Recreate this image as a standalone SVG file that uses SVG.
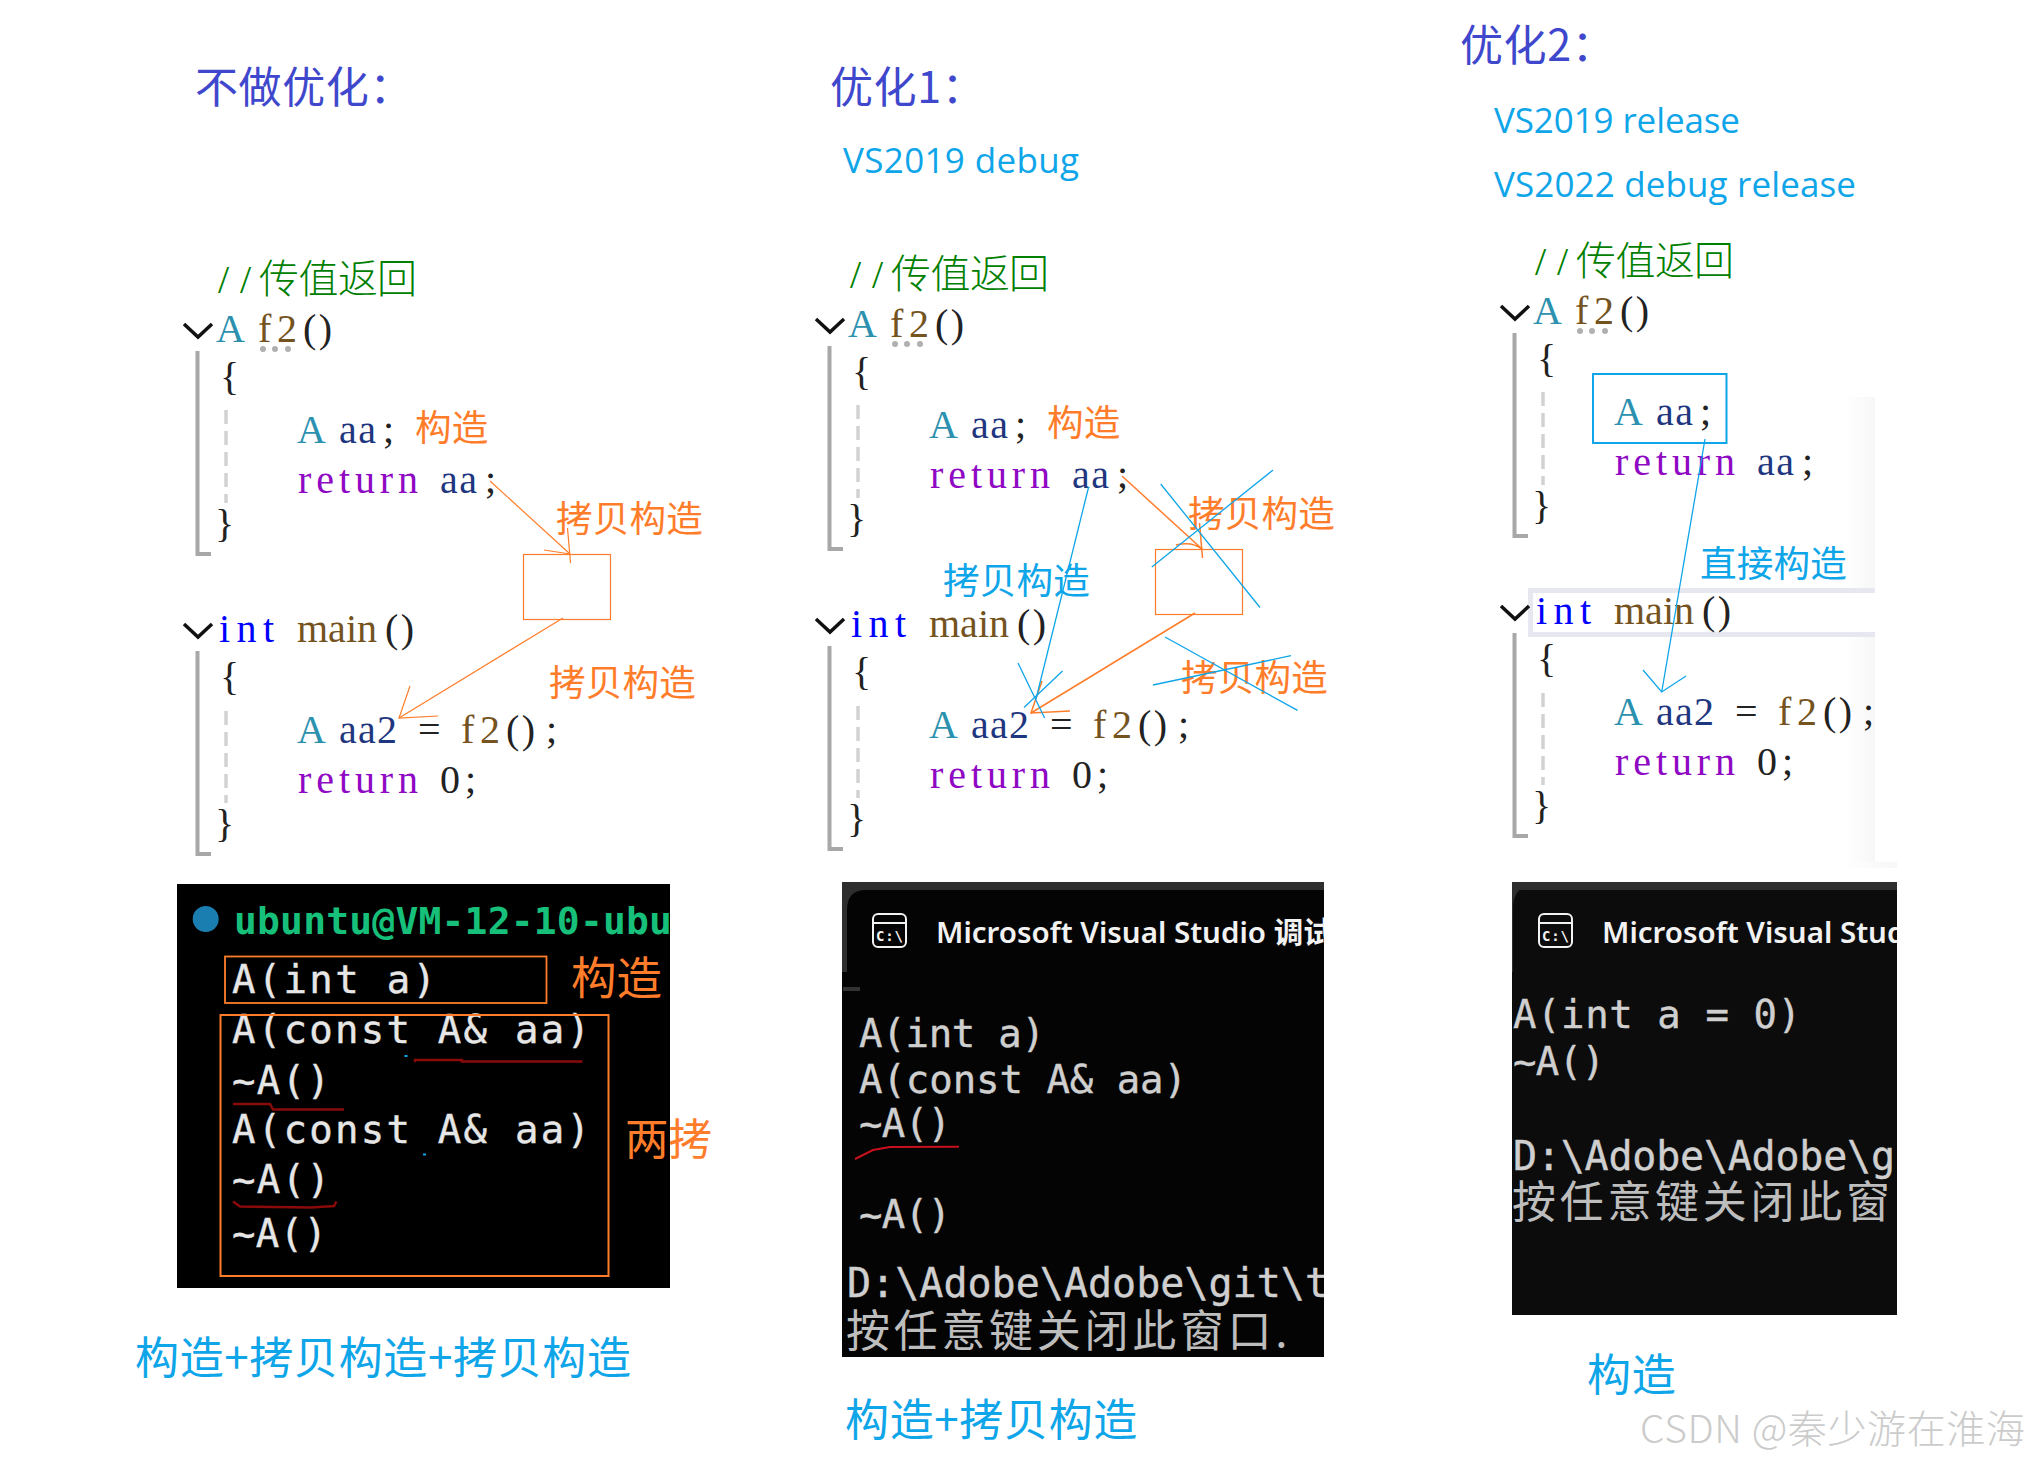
<svg xmlns="http://www.w3.org/2000/svg" width="2029" height="1463" viewBox="0 0 2029 1463">
<style>
text{white-space:pre}
.cd{font-family:"Liberation Serif","Noto Sans CJK SC",serif;font-size:40px;fill:#222}
.cm{font-family:"Liberation Serif","Noto Sans CJK SC",serif;font-size:40px;fill:#008000;font-weight:300}
.ty{fill:#2b91af}.vr{fill:#1f377f}.kw{fill:#8f08c4}.fn{fill:#74531f}.bl{fill:#0000ff}
.chev{fill:none;stroke:#111;stroke-width:3.5}
.fold{fill:none;stroke:#a8a8a8;stroke-width:4}
.dash{fill:none;stroke:#d2d2d2;stroke-width:3.5;stroke-dasharray:14 7}
.dots{fill:#b0b0b0}
.cjk{font-family:"Noto Sans CJK SC","Noto Sans",sans-serif}
.lb{font-size:36.6px;letter-spacing:.2px}
.or{fill:#ff7d2a}.sky{fill:#0ea5e9}.ind{fill:#3f48cc}
.hd{font-size:43px;letter-spacing:.6px}
.lat{font-family:"Open Sans","Noto Sans",sans-serif;font-size:35px;fill:#0ea5e9}
.ft{font-size:44px;letter-spacing:.65px}
.ol{fill:none;stroke:#ff7d2a;stroke-width:1.2}
.ol2{fill:none;stroke:#ff7d2a;stroke-width:1.5}
.bll{fill:none;stroke:#0ea5e9;stroke-width:1.3}
.mono{font-family:"DejaVu Sans Mono","Noto Sans CJK SC",monospace;font-size:39px;fill:#cfcfcf;stroke:#cfcfcf;stroke-width:.4}
.mw{fill:#e6e6e6;stroke:#e6e6e6}
.zh{font-family:"Noto Sans CJK SC",sans-serif;font-size:44px;fill:#bdbdbd;font-weight:400;letter-spacing:3.7px}
.ti{font-family:"Noto Sans","Noto Sans CJK SC",sans-serif;font-size:29.5px;font-weight:600;fill:#f2f2f2}
.ic{font-family:"DejaVu Sans Mono",monospace;font-size:14px;font-weight:700;fill:#f2f2f2}
.icb{fill:none;stroke:#f2f2f2;stroke-width:2}
.red{fill:none;stroke:#8b0a0a;stroke-width:2.5}
</style>
<defs>
<clipPath id="t1"><rect x="177" y="884" width="493" height="404"/></clipPath>
<clipPath id="t2"><rect x="842" y="882" width="482" height="475"/></clipPath>
<clipPath id="t3"><rect x="1512" y="882" width="385" height="433"/></clipPath>
<linearGradient id="fade" x1="0" x2="1" y1="0" y2="0"><stop offset="0" stop-color="#fff"/><stop offset="1" stop-color="#f7f7f7"/></linearGradient>
<g id="deco">
<polyline class="chev" points="184,324 198,337 212,324"/>
<polyline class="chev" points="184,624 198,637 212,624"/>
<polyline class="fold" points="197.5,351 197.5,554 211,554"/>
<polyline class="fold" points="197.5,651 197.5,854 211,854"/>
<line class="dash" x1="226" y1="410" x2="226" y2="503"/>
<line class="dash" x1="226" y1="711" x2="226" y2="803"/>
<g class="dots"><circle cx="263" cy="349" r="3"/><circle cx="275" cy="349" r="3"/><circle cx="288" cy="349" r="3"/></g>
</g>
</defs>
<rect width="2029" height="1463" fill="#fff"/>

<g id="header-1"><text class="cjk hd ind" x="195" y="103">不做优化：</text></g>
<g id="header-2"><text class="cjk hd ind" x="830" y="103">优化1：</text>
<text class="lat" x="843" y="173" textLength="236">VS2019 debug</text></g>
<g id="header-3"><text class="cjk hd ind" x="1460" y="61">优化2：</text>
<text class="lat" x="1494" y="133" textLength="246">VS2019 release</text>
<text class="lat" x="1494" y="197" textLength="362">VS2022 debug release</text></g>

<g id="code-1">
<use href="#deco"/>
<text class="cm" x="218 240 259 298.500 338 377" y="293">//传值返回</text>
<text class="cd ty" x="216" y="342">A</text><text class="cd fn" x="258" y="342" textLength="39">f2</text><text class="cd" x="303" y="342" textLength="29">()</text>
<text class="cd" x="220" y="390">{</text>
<text class="cd ty" x="297" y="443">A</text><text class="cd vr" x="339" y="443" textLength="37">aa</text><text class="cd" x="383" y="443">;</text>
<text class="cd kw" x="298" y="493" textLength="120">return</text><text class="cd vr" x="440" y="493" textLength="37">aa</text><text class="cd" x="485" y="493">;</text>
<text class="cd" x="215" y="537">}</text>
<text class="cd bl" x="219" y="642" textLength="55">int</text><text class="cd fn" x="297" y="642" textLength="80">main</text><text class="cd" x="385" y="642" textLength="29">()</text>
<text class="cd" x="220" y="690">{</text>
<text class="cd ty" x="297" y="743">A</text><text class="cd vr" x="339" y="743" textLength="58">aa2</text><text class="cd" x="418" y="743">=</text><text class="cd fn" x="461" y="743" textLength="39">f2</text><text class="cd" x="506" y="743" textLength="29">()</text><text class="cd" x="546" y="743">;</text>
<text class="cd kw" x="298" y="793" textLength="120">return</text><text class="cd" x="440" y="793">0</text><text class="cd" x="465" y="793">;</text>
<text class="cd" x="215" y="837">}</text>
<text class="cjk lb or" x="415" y="441">构造</text>
<text class="cjk lb or" x="556" y="532">拷贝构造</text>
<text class="cjk lb or" x="549" y="696">拷贝构造</text>
<rect class="ol" x="523.5" y="554.5" width="87" height="65"/>
</g>

<g id="code-2">
<g transform="translate(632,-5)">
<use href="#deco"/>
<text class="cm" x="218 240 259 298.500 338 377" y="293">//传值返回</text>
<text class="cd ty" x="216" y="342">A</text><text class="cd fn" x="258" y="342" textLength="39">f2</text><text class="cd" x="303" y="342" textLength="29">()</text>
<text class="cd" x="220" y="390">{</text>
<text class="cd ty" x="297" y="443">A</text><text class="cd vr" x="339" y="443" textLength="37">aa</text><text class="cd" x="383" y="443">;</text>
<text class="cd kw" x="298" y="493" textLength="120">return</text><text class="cd vr" x="440" y="493" textLength="37">aa</text><text class="cd" x="485" y="493">;</text>
<text class="cd" x="215" y="537">}</text>
<text class="cd bl" x="219" y="642" textLength="55">int</text><text class="cd fn" x="297" y="642" textLength="80">main</text><text class="cd" x="385" y="642" textLength="29">()</text>
<text class="cd" x="220" y="690">{</text>
<text class="cd ty" x="297" y="743">A</text><text class="cd vr" x="339" y="743" textLength="58">aa2</text><text class="cd" x="418" y="743">=</text><text class="cd fn" x="461" y="743" textLength="39">f2</text><text class="cd" x="506" y="743" textLength="29">()</text><text class="cd" x="546" y="743">;</text>
<text class="cd kw" x="298" y="793" textLength="120">return</text><text class="cd" x="440" y="793">0</text><text class="cd" x="465" y="793">;</text>
<text class="cd" x="215" y="837">}</text>
<text class="cjk lb or" x="415" y="441">构造</text>
<text class="cjk lb or" x="556" y="532">拷贝构造</text>
<text class="cjk lb or" x="549" y="696">拷贝构造</text>
<rect class="ol" x="523.5" y="554.5" width="87" height="65"/>
</g>
<text class="cjk lb sky" x="943" y="594">拷贝构造</text>
</g>

<g id="code-3">
<rect x="1845" y="397" width="30" height="465" fill="url(#fade)"/>
<rect x="1840" y="862" width="57" height="6" fill="url(#fade)"/>
<rect x="1530.5" y="590.5" width="350" height="44" fill="#fff" stroke="#e7e7f0" stroke-width="5"/>
<rect x="1875" y="585" width="30" height="55" fill="#fff"/>
<g transform="translate(1317,-18)">
<use href="#deco"/>
<text class="cm" x="218 240 259 298.500 338 377" y="293">//传值返回</text>
<text class="cd ty" x="216" y="342">A</text><text class="cd fn" x="258" y="342" textLength="39">f2</text><text class="cd" x="303" y="342" textLength="29">()</text>
<text class="cd" x="220" y="390">{</text>
<text class="cd ty" x="297" y="443">A</text><text class="cd vr" x="339" y="443" textLength="37">aa</text><text class="cd" x="383" y="443">;</text>
<text class="cd kw" x="298" y="493" textLength="120">return</text><text class="cd vr" x="440" y="493" textLength="37">aa</text><text class="cd" x="485" y="493">;</text>
<text class="cd" x="215" y="537">}</text>
<text class="cd bl" x="219" y="642" textLength="55">int</text><text class="cd fn" x="297" y="642" textLength="80">main</text><text class="cd" x="385" y="642" textLength="29">()</text>
<text class="cd" x="220" y="690">{</text>
<text class="cd ty" x="297" y="743">A</text><text class="cd vr" x="339" y="743" textLength="58">aa2</text><text class="cd" x="418" y="743">=</text><text class="cd fn" x="461" y="743" textLength="39">f2</text><text class="cd" x="506" y="743" textLength="29">()</text><text class="cd" x="546" y="743">;</text>
<text class="cd kw" x="298" y="793" textLength="120">return</text><text class="cd" x="440" y="793">0</text><text class="cd" x="465" y="793">;</text>
<text class="cd" x="215" y="837">}</text>
</g>
<rect x="1593" y="374" width="133.500" height="69" fill="none" stroke="#0ea5e9" stroke-width="2"/>
<text class="cjk lb sky" x="1700" y="577">直接构造</text>
</g>

<g id="connectors">
<g id="arrows-1">
<polyline class="ol" points="490,481 570,554"/>
<polyline class="ol" points="567.500,528 570.500,563"/>
<polyline class="ol" points="544,550 570,554"/>
<polyline class="ol" points="563,618 399,718"/>
<polyline class="ol" points="410,686 399,718 438,716"/>
</g>
<g id="arrows-2" transform="translate(632,-5)">
<polyline class="ol2" points="490,481 570,554"/>
<polyline class="ol2" points="567.500,528 570.500,563"/>
<path class="ol2" d="M544,550Q560,546 570,554"/>
<polyline class="ol2" points="563,618 399,718"/>
<polyline class="ol2" points="410,686 399,718 438,716"/>
</g>
<g id="arrows-2-blue">
<polyline class="bll" points="1088.600,487 1036,699"/>
<polyline class="bll" points="1018,663 1044.600,718"/>
<polyline class="bll" points="1062.500,671 1024,707.500"/>
<polyline class="bll" points="1151.800,567 1273,470"/>
<polyline class="bll" points="1160.700,484 1260,607.500"/>
<polyline class="bll" points="1165,637 1297.500,710.400"/>
<polyline class="bll" points="1152.900,685 1291,655.700"/>
</g>
<g id="arrows-3">
<polyline class="bll" points="1705,439 1661.700,692"/>
<polyline class="bll" points="1643,670 1661.700,692 1686,676"/>
</g>
</g>

<g id="terminal-1">
<rect x="177" y="884" width="493" height="404" fill="#000"/>
<circle cx="205.700" cy="919" r="13" fill="#1a7fb0"/>
<text x="234" y="933.600" font-family="DejaVu Sans Mono,monospace" font-size="38" font-weight="700" fill="#17c07a" textLength="438" clip-path="url(#t1)">ubuntu@VM-12-10-ubu</text>
<text class="mono mw" x="232" y="993" textLength="204">A(int a)</text>
<text class="mono mw" x="232" y="1043" textLength="358">A(const A&amp; aa)</text>
<text class="mono mw" x="232" y="1094" textLength="98">~A()</text>
<text class="mono mw" x="232" y="1143" textLength="358">A(const A&amp; aa)</text>
<text class="mono mw" x="232" y="1193" textLength="98">~A()</text>
<text class="mono mw" x="232" y="1247" textLength="95">~A()</text>
<rect x="225" y="956.500" width="321.500" height="46.500" fill="none" stroke="#ff7d2a" stroke-width="1.800"/>
<rect x="220.500" y="1015" width="388" height="261" fill="none" stroke="#ff7d2a" stroke-width="2"/>
<path class="red" d="M415,1062V1060H462V1061.500H582.500"/>
<path class="red" stroke="#c00" d="M233,1104H270L273,1109.500H344"/>
<path class="red" d="M233,1201.500L240,1206.600L311,1207.600L334,1206L336.400,1201.500"/>
<rect x="404.500" y="1055" width="3" height="2" fill="#0ea5e9"/>
<rect x="423" y="1153.500" width="3" height="2" fill="#0ea5e9"/>
<text class="cjk or" font-size="45.500" x="571" y="995">构造</text>
<text class="cjk or" font-size="43.500" x="625" y="1155">两拷</text>
</g>

<g id="terminal-2">
<rect x="842" y="882" width="482" height="90" fill="#2e2e2e"/>
<path d="M1324,890H866Q847,890 847,910V972H842V1357H1324Z" fill="#040404"/>
<rect x="843" y="987" width="17" height="4" fill="#333"/>
<rect class="icb" x="873" y="914" width="33" height="33" rx="5"/>
<line class="icb" x1="873" y1="923" x2="906" y2="923"/>
<text class="ic" x="876" y="941" textLength="27">C:\</text>
<text class="ti" x="936" y="943" clip-path="url(#t2)">Microsoft Visual Studio 调试</text>
<text class="mono" x="859" y="1047" textLength="186">A(int a)</text>
<text class="mono" x="859" y="1093" textLength="328">A(const A&amp; aa)</text>
<text class="mono" x="859" y="1137" textLength="92">~A()</text>
<text class="mono" x="859" y="1228" textLength="92">~A()</text>
<text class="mono" style="font-size:40px" x="847" y="1297" textLength="482" clip-path="url(#t2)">D:\Adobe\Adobe\git\t</text>
<text class="zh" x="846" y="1347">按任意键关闭此窗口.</text>
<polyline fill="none" stroke="#c8101c" stroke-width="2" points="855,1159 873,1150 890,1147 959,1146.700"/>
</g>

<g id="terminal-3">
<rect x="1512" y="882" width="385" height="433" fill="#0c0c0c"/>
<rect x="1512" y="882" width="385" height="8" fill="#2e2e2e"/>
<path d="M1512,882H1530Q1514,890 1513,905V972H1512Z" fill="#2e2e2e"/>
<rect class="icb" x="1539" y="914" width="33" height="33" rx="5"/>
<line class="icb" x1="1539" y1="923" x2="1572" y2="923"/>
<text class="ic" x="1542" y="941" textLength="27">C:\</text>
<text class="ti" x="1602" y="943" clip-path="url(#t3)">Microsoft Visual Stud</text>
<text class="mono" x="1513" y="1028" textLength="288">A(int a = 0)</text>
<text class="mono" x="1513" y="1075" textLength="92">~A()</text>
<text class="mono" style="font-size:40px" x="1513" y="1170" textLength="382">D:\Adobe\Adobe\g</text>
<text class="zh" x="1512" y="1218">按任意键关闭此窗</text>
</g>

<g id="footers">
<text class="cjk ft sky" x="135" y="1374">构造+拷贝构造+拷贝构造</text>
<text class="cjk ft sky" x="845" y="1436">构造+拷贝构造</text>
<text class="cjk ft sky" x="1587" y="1391">构造</text>
</g>
<g id="watermark"><text class="cjk" x="1640" y="1443" font-size="39" fill="#cbcbcb" font-weight="300" textLength="385">CSDN @秦少游在淮海</text></g>
</svg>
